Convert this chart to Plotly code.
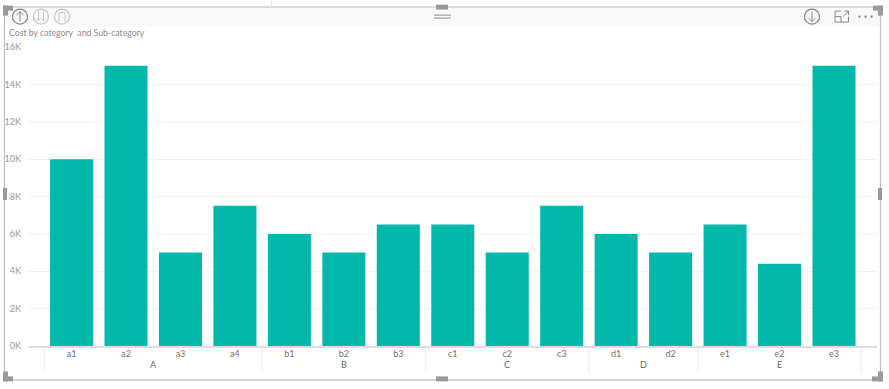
import plotly.graph_objects as go

W, H = 889, 389
subcats = ["a1","a2","a3","a4","b1","b2","b3","c1","c2","c3","d1","d2","e1","e2","e3"]
values = [10000,15000,5000,7500,6000,5000,6500,6500,5000,7500,6000,5000,6500,4400,15000]
groups = ["A","B","C","D","E"]
group_sizes = [4,3,3,2,3]
y_ticks = [0,2000,4000,6000,8000,10000,12000,14000,16000]
y_labels = ["0K","2K","4K","6K","8K","10K","12K","14K","16K"]
title_text = "Cost by category  and Sub-category"
FONT = "Lato"

PL, PR, PT, PB = 28, 877, 46.5, 346.5

def px(x): return (x - PL) / (PR - PL)
def py(y): return (PB - y) / (PB - PT)

shapes, ann = [], []
def rect(x0, y0, x1, y1, fill=None, line=None, lw=1, layer="below"):
    shapes.append(dict(type="rect", xref="paper", yref="paper", x0=px(x0), x1=px(x1), y0=py(y0), y1=py(y1),
                       fillcolor=fill or "rgba(0,0,0,0)", line=dict(color=line or "rgba(0,0,0,0)", width=lw if line else 0), layer=layer))
def seg(x0, y0, x1, y1, c, lw=1, layer="above"):
    shapes.append(dict(type="line", xref="paper", yref="paper", x0=px(x0), x1=px(x1), y0=py(y0), y1=py(y1),
                       line=dict(color=c, width=lw), layer=layer))
def circ(cx, cy, r, c, lw=1.3):
    shapes.append(dict(type="circle", xref="paper", yref="paper", x0=px(cx-r), x1=px(cx+r), y0=py(cy-r), y1=py(cy+r),
                       line=dict(color=c, width=lw), layer="above"))

# visual frame
rect(4.5, 6.5, 880.5, 380.5, fill="white", line="#bdbdbd", lw=1.2)
rect(5, 7, 880, 26, fill="#f9f9f9")
seg(271.5, 0, 271.5, 6, "#e6e6e6", layer="below")

# corner and edge handles
for x0, y0, x1, y1 in [(3,5,13,10),(3,5,8,15),(873,5,883,10),(878,5,883,15),
                       (3,372,8,382),(3,377,13,382),(872,377,883,382),(878,372,883,382),
                       (436,377,448,382),(436,4,448,9),(3,188,7,200),(878,188,882,200)]:
    rect(x0, y0, x1, y1, fill="#9a9a9a", layer="above")
seg(434, 14.5, 451, 14.5, "#8a8a8a")
seg(434, 17.5, 451, 17.5, "#8a8a8a")

# header icons
circ(20, 16, 7.5, "#888888")
seg(20, 11, 20, 21, "#888888"); seg(20, 11, 16.5, 14.5, "#888888"); seg(20, 11, 23.5, 14.5, "#888888")
circ(41, 16, 7.5, "#c8c8c8")
for dx in (-2.5, 2.5):
    seg(41+dx, 11, 41+dx, 20, "#c8c8c8"); seg(41+dx, 20, 41+dx-2, 18, "#c8c8c8"); seg(41+dx, 20, 41+dx+2, 18, "#c8c8c8")
circ(62, 16, 7.5, "#c8c8c8")
seg(59, 21, 59, 12, "#c8c8c8"); seg(59, 12, 65, 12, "#c8c8c8"); seg(65, 12, 65, 21, "#c8c8c8")
circ(812, 16, 7.5, "#888888")
seg(812, 11, 812, 21, "#888888"); seg(812, 21, 808.5, 17.5, "#888888"); seg(812, 21, 815.5, 17.5, "#888888")
seg(841, 10.5, 835, 10.5, "#888888"); seg(835, 10.5, 835, 21.5, "#888888"); seg(835, 21.5, 848.5, 21.5, "#888888"); seg(848.5, 21.5, 848.5, 16, "#888888")
seg(835, 16, 841, 16, "#888888"); seg(841, 16, 841, 21.5, "#888888")
seg(843, 16, 848.5, 10.5, "#888888"); seg(844.5, 10.5, 848.5, 10.5, "#888888"); seg(848.5, 10.5, 848.5, 14.5, "#888888")
for x in (859.5, 865.5, 871.5):
    rect(x-1, 15, x+1, 17, fill="#808080", layer="above")

ann.append(dict(xref="paper", yref="paper", x=px(8), y=py(31.5), xanchor="left", yanchor="middle", showarrow=False, xshift=-1,
                text=title_text, font=dict(family=FONT, size=8.7, color="#8c8c8c")))

# hierarchical category axis, placed from the series index
start = 0
for i in range(len(groups) + 1):
    edge = start - 0.5
    shapes.append(dict(type="line", xref="x", yref="paper", x0=edge, x1=edge, y0=py(348), y1=py(372),
                       line=dict(color="#eeeeee", width=1.2), layer="below"))
    if i < len(groups):
        ann.append(dict(xref="x", yref="paper", x=start + (group_sizes[i]-1)/2, y=py(365.5), xanchor="center", yanchor="middle",
                        showarrow=False, text=groups[i], font=dict(family=FONT, size=9, color="#666666")))
        start += group_sizes[i]

fig = go.Figure(go.Bar(x=list(range(len(subcats))), y=values, marker=dict(color="#01b8aa", line=dict(width=0)), width=0.79))
fig.update_layout(
    width=W, height=H, autosize=False, margin=dict(l=PL, r=W-PR, t=PT, b=H-PB),
    paper_bgcolor="white", plot_bgcolor="rgba(0,0,0,0)", showlegend=False, shapes=shapes, annotations=ann,
    font=dict(family=FONT, size=9, color="#777777"),
    xaxis=dict(range=[-0.8, 14.79], tickmode="array", tickvals=list(range(len(subcats))), ticktext=subcats,
               showgrid=False, showline=True, linecolor="#dddddd", linewidth=1.5, ticks="", ticklen=0,
               ticklabelstandoff=-2,
               tickfont=dict(family=FONT, size=9, color="#6f6f6f"), tickangle=0, zeroline=False, fixedrange=True),
    yaxis=dict(range=[0, 16000], tickmode="array", tickvals=y_ticks, ticktext=y_labels, showgrid=True,
               gridcolor="#f1f1f1", gridwidth=1, zeroline=False, showline=False, ticks="", automargin=False,
               ticklabelstandoff=6,
               tickfont=dict(family=FONT, size=9, color="#999999"), fixedrange=True),
    bargap=0.2,
)
fig.write_html("out.html", config=dict(displayModeBar=False),
               post_script="document.body.style.margin='0';document.body.style.overflow='hidden';")
